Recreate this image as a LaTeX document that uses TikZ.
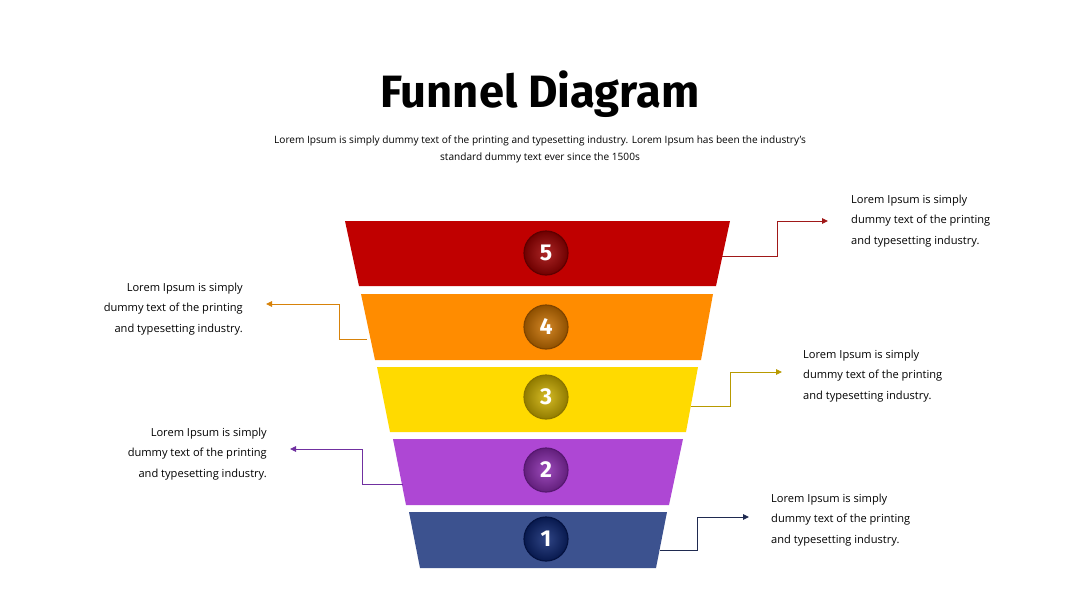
\documentclass[tikz,border=0pt]{standalone}
\usepackage{fontspec}
\setmainfont{Open Sans}
\newfontfamily\titlefont{Fira Sans}
\usetikzlibrary{arrows.meta}
\definecolor{cR}{HTML}{C00000}
\definecolor{cO}{HTML}{FF8C00}
\definecolor{cY}{HTML}{FFDA00}
\definecolor{cP}{HTML}{AE47D4}
\definecolor{cB}{HTML}{3C528F}
\definecolor{kR}{HTML}{9E0000}\definecolor{dR}{HTML}{5E0000}
\definecolor{kO}{HTML}{CC7200}\definecolor{dO}{HTML}{7E4400}
\definecolor{kY}{HTML}{CFB000}\definecolor{dY}{HTML}{8A7400}
\definecolor{kP}{HTML}{8C2CB0}\definecolor{dP}{HTML}{561870}
\definecolor{kB}{HTML}{0B2470}\definecolor{dB}{HTML}{041240}
\definecolor{lR}{HTML}{A01818}
\definecolor{lO}{HTML}{D7820A}
\definecolor{lY}{HTML}{B89A00}
\definecolor{lP}{HTML}{7030A0}
\definecolor{lB}{HTML}{1F2A50}
\tikzset{
  x=1pt,y=-1pt,
  num/.style={circle,minimum size=44pt,inner sep=0pt,text=white,font=\titlefont\bfseries\fontsize{23}{23}\selectfont},
  conn/.style={line width=0.9pt,-{Triangle[length=6pt,width=5.5pt]}},
  desc/.style={font=\fontsize{11.1}{20.5}\selectfont,inner sep=0pt},
}
\begin{document}
\begin{tikzpicture}
\fill[white] (0,0) rectangle (1080,608);
\useasboundingbox (0,0) rectangle (1080,608);
% title
\node[font=\titlefont\bfseries\fontsize{45.3}{45.3}\selectfont,anchor=base] (title) at (540,107) {Funnel Diagram};
\node[font=\fontsize{10.1}{17}\selectfont,align=center,anchor=center,inner sep=0pt] (sub) at (540,149) {Lorem Ipsum is simply dummy text of the printing and typesetting industry. Lorem Ipsum has been the industry's\\standard dummy text ever since the 1500s};
% funnel
\fill[cR] (345,221) -- (730,221) -- (716,286) -- (359,286) -- cycle;
\fill[cO] (361,294) -- (713,294) -- (701,360) -- (375,360) -- cycle;
\fill[cY] (377,367) -- (698,367) -- (686,432) -- (390,432) -- cycle;
\fill[cP] (393,439) -- (683,439) -- (669,505) -- (406,505) -- cycle;
\fill[cB] (409,512) -- (667,512) -- (656,568) -- (420,568) -- cycle;
% circles
\foreach \n/\k/\d/\y in {5/kR/dR/253,4/kO/dO/327,3/kY/dY/397,2/kP/dP/470,1/kB/dB/539}{
  \node[num,draw=\d,line width=1.2pt,inner color=\k!85!white,outer color=\k!70!black] (n\n) at (546,\y) {\n};
}
% edge coordinates
\coordinate (e5) at (722,256);
\coordinate (e4) at (367,339);
\coordinate (e3) at (691,406);
\coordinate (e2) at (403,484);
\coordinate (e1) at (660,550);
% texts
\node[desc,anchor=west,align=left] (t5) at (851,221) {Lorem Ipsum is simply\\dummy text of the printing\\and typesetting industry.};
\node[desc,anchor=east,align=right] (t4) at (243,309) {Lorem Ipsum is simply\\dummy text of the printing\\and typesetting industry.};
\node[desc,anchor=west,align=left] (t3) at (803,376) {Lorem Ipsum is simply\\dummy text of the printing\\and typesetting industry.};
\node[desc,anchor=east,align=right] (t2) at (267,454) {Lorem Ipsum is simply\\dummy text of the printing\\and typesetting industry.};
\node[desc,anchor=west,align=left] (t1) at (771,520) {Lorem Ipsum is simply\\dummy text of the printing\\and typesetting industry.};
\coordinate (a5) at (828,221);
\coordinate (a4) at (266,304);
\coordinate (a3) at (782,372);
\coordinate (a2) at (290,449);
\coordinate (a1) at (749,517);
% connectors
\draw[conn,lR] (e5) -- (777,256) |- (a5);
\draw[conn,lO] (e4) -- (339,339) |- (a4);
\draw[conn,lY] (e3) -- (730,406) |- (a3);
\draw[conn,lP] (e2) -- (362,484) |- (a2);
\draw[conn,lB] (e1) -- (697,550) |- (a1);
\end{tikzpicture}
\end{document}
